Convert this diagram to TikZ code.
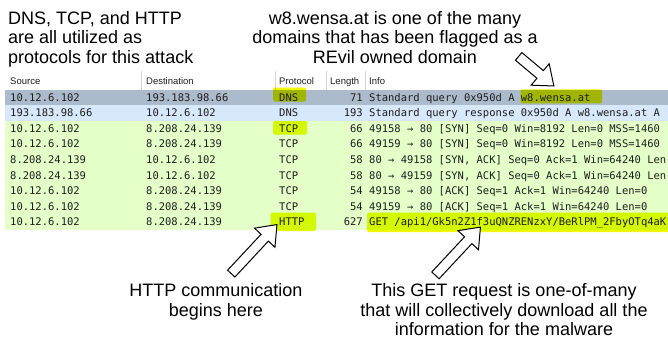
\documentclass[tikz,border=0pt]{standalone}
\usepackage{fontspec}
\setmainfont{Liberation Sans}
\newfontfamily\wsmono{DejaVu Sans Mono}
\usetikzlibrary{shapes.arrows}
\definecolor{rowsel}{RGB}{172,187,203}
\definecolor{rowudp}{RGB}{214,232,250}
\definecolor{rowtcp}{RGB}{228,255,199}
\definecolor{hl}{RGB}{238,248,0}
\definecolor{sepgray}{RGB}{214,214,214}
\definecolor{celltext}{RGB}{30,30,30}
\newcommand{\wsrow}[6]{%
  \pgfmathsetmacro{\wsy}{89.5+15.6*(#1-0.5)+3.8}%
  \node[cell] (src#1) at (10,\wsy) {#2};
  \node[cell] (dst#1) at (146,\wsy) {#3};
  \node[cell] (pro#1) at (279,\wsy) {#4};
  \node[num] (len#1) at (363,\wsy) {#5};
  \node[cell] (inf#1) at (369,\wsy) {#6};
}
\begin{document}
\begin{tikzpicture}[x=1pt,y=-1pt,
  note/.style={font=\fontsize{18}{19.5}\selectfont, inner sep=0pt, anchor=base},
  hdr/.style={font=\fontsize{9.5}{11}\selectfont, inner sep=0pt, anchor=base west, text=celltext},
  cell/.style={font=\wsmono\fontsize{10.5}{12}\selectfont, inner sep=0pt, anchor=base west, text=celltext},
  num/.style={cell, anchor=base east},
  hilite/.style={fill=hl, rounded corners=1.5pt, blend mode=multiply},
  blockarrow/.style={single arrow, draw=black, fill=white, line width=1pt,
    inner sep=4.5pt, single arrow head extend=9pt, single arrow tip angle=76,
    minimum width=0pt, anchor=tip}
]
\useasboundingbox (0,0) rectangle (668,343);
\fill[white] (0,0) rectangle (668,343);
\begin{scope}
\clip (0,0) rectangle (668,343);
% header separators
\foreach \sx in {141.7,275,326.7,365.7}
  \draw[sepgray, line width=0.8pt] (\sx,71) -- (\sx,89.5);
\node[hdr] (hsrc) at (10,84) {Source};
\node[hdr] (hdst) at (146,84) {Destination};
\node[hdr] (hpro) at (279,84) {Protocol};
\node[hdr] (hlen) at (330,84) {Length};
\node[hdr] (hinf) at (369,84) {Info};
% row backgrounds
\fill[rowsel] (5,89.5) rectangle (668,105.1);
\fill[rowudp] (5,105.1) rectangle (668,120.7);
\fill[rowtcp] (5,120.7) rectangle (668,230);
% highlights
\fill[hilite] (273,87.5) rectangle (306,101.5);
\fill[hilite] (273,121) rectangle (307,134.5);
\fill[hilite] (270.5,212.5) rectangle (316,231);
\fill[hilite] (520.5,89.3) rectangle (602,103.3);
\fill[hilite] (367,212.5) rectangle (672,232);
% rows
\wsrow{1}{10.12.6.102}{193.183.98.66}{DNS}{71}{Standard query 0x950d A w8.wensa.at}
\wsrow{2}{193.183.98.66}{10.12.6.102}{DNS}{193}{Standard query response 0x950d A w8.wensa.at A}
\wsrow{3}{10.12.6.102}{8.208.24.139}{TCP}{66}{49158 → 80 [SYN] Seq=0 Win=8192 Len=0 MSS=1460}
\wsrow{4}{10.12.6.102}{8.208.24.139}{TCP}{66}{49159 → 80 [SYN] Seq=0 Win=8192 Len=0 MSS=1460}
\wsrow{5}{8.208.24.139}{10.12.6.102}{TCP}{58}{80 → 49158 [SYN, ACK] Seq=0 Ack=1 Win=64240 Len}
\wsrow{6}{8.208.24.139}{10.12.6.102}{TCP}{58}{80 → 49159 [SYN, ACK] Seq=0 Ack=1 Win=64240 Len}
\wsrow{7}{10.12.6.102}{8.208.24.139}{TCP}{54}{49158 → 80 [ACK] Seq=1 Ack=1 Win=64240 Len=0}
\wsrow{8}{10.12.6.102}{8.208.24.139}{TCP}{54}{49159 → 80 [ACK] Seq=1 Ack=1 Win=64240 Len=0}
\wsrow{9}{10.12.6.102}{8.208.24.139}{HTTP}{627}{GET /api1/Gk5n2Z1f3uQNZRENzxY/BeRlPM\_2FbyOTq4aK}
\end{scope}
% block arrows
\node[blockarrow, rotate=-40, minimum height=46pt] (a1) at (554.5,86.5) {};
\node[blockarrow, rotate=47, minimum height=67pt] (a2) at (277.5,224) {};
\node[blockarrow, rotate=47, minimum height=66pt] (a3) at (481,226.5) {};
% annotations (base anchor = baseline of the last line)
\node[note, align=left, anchor=base west] (t1) at (8,63)
  {DNS, TCP, and HTTP\\are all utilized as\\protocols for this attack};
\node[note, align=center] (t2) at (395,63)
  {w8.wensa.at is one of the many\\domains that has been flagged as a\\REvil owned domain};
\node[note, align=center] (t3) at (216,316)
  {HTTP communication\\begins here};
\node[note, align=center] (t4) at (504,335.5)
  {This GET request is one-of-many\\that will collectively download all the\\information for the malware};
\end{tikzpicture}
\end{document}
